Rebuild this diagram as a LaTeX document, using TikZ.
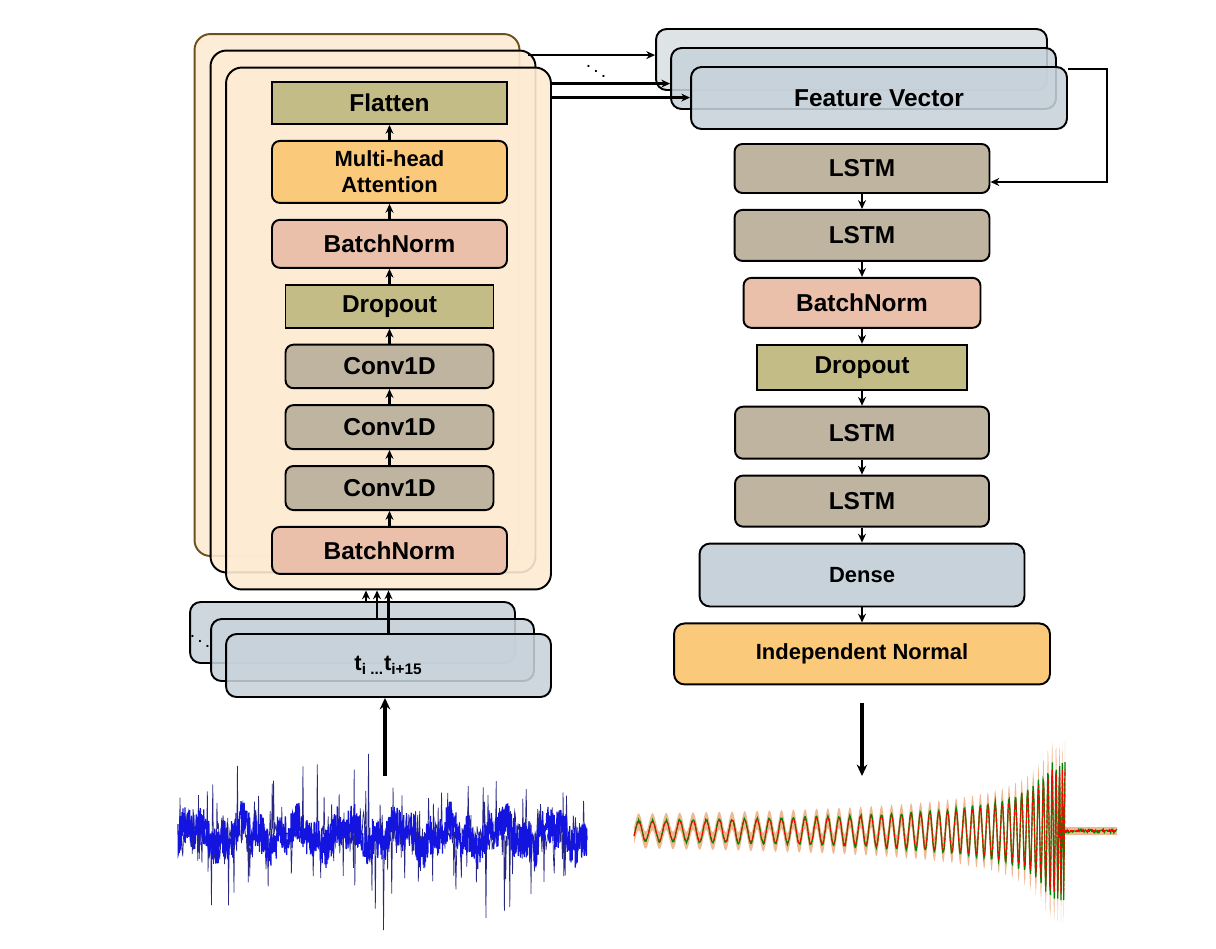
\documentclass[tikz,border=0pt]{standalone}
\usepackage{fontspec}
\setmainfont{Liberation Sans}
\usetikzlibrary{positioning,calc,arrows.meta}
\definecolor{stackfill}{RGB}{253,235,211}
\definecolor{stackedge}{RGB}{110,80,30}
\definecolor{khaki}{RGB}{196,188,135}
\definecolor{taupe}{RGB}{190,180,160}
\definecolor{salmon}{RGB}{235,192,170}
\definecolor{apricot}{RGB}{250,201,122}
\definecolor{slate}{RGB}{199,210,218}
\definecolor{slatelight}{RGB}{217,223,227}
\definecolor{bandfill}{RGB}{233,160,110}
\definecolor{sigblue}{RGB}{20,20,225}
\definecolor{sigdark}{RGB}{40,40,130}
\definecolor{siggreen}{RGB}{0,135,0}

\begin{document}
\begin{tikzpicture}[
    x=0.02cm, y=-0.02cm,
    node distance=0.3cm,
    font=\bfseries\fontsize{13.9}{16}\selectfont,
    layer/.style={rectangle, draw, line width=1.1pt, rounded corners=4.5pt, align=center, inner sep=0pt},
    flatbox/.style={rectangle, draw, line width=1.1pt, align=center, inner sep=0pt},
    stack/.style={rectangle, draw, line width=1.1pt, rounded corners=9pt, fill=stackfill, fill opacity=0.9, minimum width=6.5cm, minimum height=10.44cm},
    card/.style={rectangle, draw, line width=1.1pt, rounded corners=6pt, fill=slate, fill opacity=0.88, text opacity=1, align=center, inner sep=0pt},
    small/.style={font=\bfseries\fontsize{12.5}{15}\selectfont},
    dots/.style={font=\fontsize{11}{12}\selectfont},
    arrow/.style={-{Stealth[length=5pt,width=4.5pt]}, line width=1.3pt},
    bigarrow/.style={-{Stealth[length=6.5pt,width=6pt]}, line width=2.2pt},
    declare function={
      champ(\x)=10*min(7,(434/(1068-\x))^0.6);
      chwave(\x)=champ(\x)*sin(deg(mod(7*(1068-\x)^0.625,6.28318)));
    }
]
    \useasboundingbox (0,0) rectangle (1216,948);

    % encoder stacks
    \node[stack, draw=stackedge] (cback) at (357,295) {};
    \node[stack] (cmid) at (373,311.5) {};
    \node[stack] (cfront) at (388.5,328.5) {};

    \node[flatbox, fill=khaki, minimum width=4.7cm, minimum height=0.84cm] (flat) at (389.5,103) {Flatten};
    \node[layer, fill=apricot, minimum width=4.7cm, minimum height=1.24cm, small, below=of flat] (mha) {Multi-head\\Attention};
    \node[layer, fill=salmon, minimum width=4.7cm, minimum height=0.96cm, below=of mha] (bnorm1) {BatchNorm};
    \node[flatbox, fill=khaki, minimum width=4.16cm, minimum height=0.86cm, below=of bnorm1] (drop1) {Dropout};
    \node[layer, fill=taupe, minimum width=4.16cm, minimum height=0.87cm, below=of drop1] (conv1) {Conv1D};
    \node[layer, fill=taupe, minimum width=4.16cm, minimum height=0.88cm, below=of conv1] (conv2) {Conv1D};
    \node[layer, fill=taupe, minimum width=4.16cm, minimum height=0.88cm, below=of conv2] (conv3) {Conv1D};
    \node[layer, fill=salmon, minimum width=4.7cm, minimum height=0.94cm, below=of conv3] (bnorm2) {BatchNorm};

    \foreach \a/\b in {bnorm2/conv3, conv3/conv2, conv2/conv1, conv1/drop1, drop1/bnorm1, bnorm1/mha, mha/flat}
        \draw[arrow] (\a) -- (\b);

    % input windows
    \node[card, minimum width=6.5cm, minimum height=1.22cm] (inback) at (352.5,632.5) {};
    \node[dots] (indots) at (200,636) {$\ddots$};
    \node[card, minimum width=6.46cm, minimum height=1.24cm] (inmid) at (372.5,650) {};
    \node[card, minimum width=6.5cm, minimum height=1.26cm, small] (infront) at (388.5,665.5) {t\textsubscript{i ...}t\textsubscript{i+15}};

    \draw[arrow] ([xshift=0.27cm]inback.north) -- ([xshift=0.27cm]inback.north |- cfront.south);
    \draw[arrow] ([xshift=0.09cm]inmid.north) -- ([xshift=0.09cm]inmid.north |- cfront.south);
    \draw[arrow] (infront.north) -- (infront.north |- cfront.south);

    % decoder
    \node[card, fill=slatelight, minimum width=7.82cm, minimum height=1.22cm] (fvback) at (851.5,59.5) {};
    \node[card, minimum width=7.7cm, minimum height=1.22cm] (fvmid) at (863.5,78.5) {};
    \node[card, minimum width=7.52cm, minimum height=1.24cm] (fv) at (879,98) {Feature Vector};

    \node[layer, fill=taupe, minimum width=5.1cm, minimum height=0.98cm] (lstm1) at (862,168.5) {LSTM};
    \node[layer, fill=taupe, minimum width=5.1cm, minimum height=1.02cm, below=of lstm1] (lstm2) {LSTM};
    \node[layer, fill=salmon, minimum width=4.74cm, minimum height=1.0cm, below=of lstm2] (bnorm3) {BatchNorm};
    \node[flatbox, fill=khaki, minimum width=4.2cm, minimum height=0.9cm, below=of bnorm3] (drop2) {Dropout};
    \node[layer, fill=taupe, minimum width=5.08cm, minimum height=1.04cm, below=of drop2] (lstm3) {LSTM};
    \node[layer, fill=taupe, minimum width=5.08cm, minimum height=1.02cm, below=of lstm3] (lstm4) {LSTM};
    \node[layer, fill=slate, rounded corners=6pt, minimum width=6.5cm, minimum height=1.26cm, small, below=of lstm4] (dense) {Dense};
    \node[layer, fill=apricot, rounded corners=6pt, minimum width=7.52cm, minimum height=1.22cm, small, below=of dense] (indep) {Independent Normal};

    \foreach \a/\b in {lstm1/lstm2, lstm2/bnorm3, bnorm3/drop2, drop2/lstm3, lstm3/lstm4, lstm4/dense, dense/indep}
        \draw[arrow] (\a) -- (\b);

    % encoder -> feature vectors
    \coordinate (o1) at ([xshift=0.16cm,yshift=-0.44cm]cback.north east);
    \coordinate (o2) at ([yshift=-0.34cm]cfront.north east);
    \coordinate (o3) at ([yshift=-0.62cm]cfront.north east);
    \draw[arrow] (o1) -- (o1 -| fvback.west);
    \draw[arrow] (o2) -- (o2 -| fvmid.west);
    \draw[arrow] (o3) -- (o3 -| fv.west);
    \node[dots] (fvdots) at (596,66) {$\ddots$};

    \draw[arrow] ([yshift=-0.06cm]fv.north east) -- ++(39,0) |- ([yshift=-0.27cm]lstm1.east);

    % signals in and out
    \coordinate (sigin) at (385,776);
    \draw[bigarrow] (sigin) -- (sigin |- infront.south);
    \coordinate (outtop) at ([yshift=-0.36cm]indep.south);
    \coordinate (sigout) at (862,776);
    \draw[bigarrow] (outtop) -- (outtop |- sigout);

    % noisy input strain
    \pgfmathsetseed{42}
    \draw[sigdark, line width=0.4pt] plot[samples=600, domain=178:587] (\x,{835+105*rand*rand*rand});
    \draw[sigblue, line width=0.7pt] plot[samples=1300, domain=178:587] (\x,{835+20*rand+9*sin(7*\x)+6*sin(19*\x)});

    % predicted waveform
    \fill[bandfill, opacity=0.75] plot[samples=650, domain=634:1065] (\x,{831-0.9*chwave(\x)-5-0.35*champ(\x)})
        -- plot[samples=650, domain=1065:634] (\x,{831-0.9*chwave(\x)+5+0.35*champ(\x)}) -- cycle;
    \fill[bandfill, opacity=0.75] (1065,827) rectangle (1117,835);
    \draw[siggreen, line width=0.7pt] plot[samples=650, domain=634:1065] (\x,{831-chwave(\x)+1.2*rand});
    \draw[siggreen, line width=0.7pt] plot[samples=50, domain=1065:1117] (\x,{831+2*rand});
    \draw[red, line width=0.6pt, dash pattern=on 2pt off 1pt] plot[samples=650, domain=634:1065] (\x,{831-0.9*chwave(\x)});
    \draw[red, line width=0.6pt, dash pattern=on 2pt off 1pt] (1065,831) -- (1117,831);
\end{tikzpicture}
\end{document}
